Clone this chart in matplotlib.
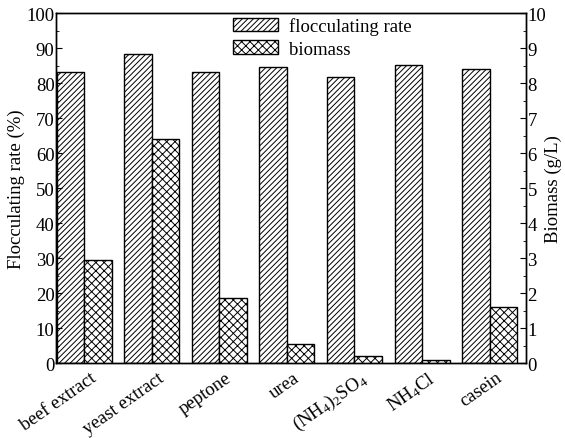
import numpy as np
import matplotlib
matplotlib.use('Agg')
import matplotlib.pyplot as plt

plt.rcParams['font.family'] = ['Liberation Serif', 'DejaVu Serif']
plt.rcParams['mathtext.fontset'] = 'custom'
plt.rcParams['mathtext.rm'] = 'Liberation Serif'
plt.rcParams['mathtext.it'] = 'Liberation Serif:italic'
plt.rcParams['hatch.linewidth'] = 0.7

sources = ['beef extract', 'yeast extract', 'peptone', 'urea',
           '(NH$_4$)$_2$SO$_4$', 'NH$_4$Cl', 'casein']
floc_rate = [83.3, 88.4, 83.3, 84.8, 81.7, 85.4, 84.0]
biomass = [2.96, 6.40, 1.86, 0.54, 0.19, 0.08, 1.60]

fs = 13.5
w = 0.407
x = np.arange(len(sources))

fig = plt.figure(figsize=(5.65, 4.39), dpi=100)
ax = fig.add_axes([0.0991, 0.1708, 0.8319, 0.7962])
ax2 = ax.twinx()

b1 = ax.bar(x - w / 2, floc_rate, width=w, facecolor='white', edgecolor='black',
            linewidth=1.0, hatch='//////', label='flocculating rate')
b2 = ax2.bar(x + w / 2, biomass, width=w, facecolor='white', edgecolor='black',
             linewidth=1.0, hatch='xxxx', label='biomass')

ax.set_xlim(-0.42, 6.54)
ax.set_ylim(0, 100)
ax2.set_ylim(0, 10)

ax.set_yticks(np.arange(0, 101, 10))
ax.set_yticks(np.arange(0, 101, 5), minor=True)
ax2.set_yticks(np.arange(0, 11, 1))
ax2.set_yticks(np.arange(0, 10.1, 0.5), minor=True)

ax.set_xticks(x + 0.08)
ax.set_xticklabels(sources, rotation=35, ha='right', rotation_mode='anchor', fontsize=fs)
ax.tick_params(axis='x', direction='in', length=0, pad=4)
ax.tick_params(axis='y', which='major', direction='in', length=4, labelsize=fs, pad=1)
ax.tick_params(axis='y', which='minor', direction='in', length=2)
ax2.tick_params(axis='y', which='major', direction='in', length=4, labelsize=fs, pad=1)
ax2.tick_params(axis='y', which='minor', direction='in', length=2)

ax.set_ylabel('Flocculating rate (%)', fontsize=fs, labelpad=1)
ax2.set_ylabel('Biomass (g/L)', fontsize=fs, labelpad=-1)

for a in (ax, ax2):
    for s in a.spines.values():
        s.set_linewidth(1.0)

ax.legend([b1, b2], ['flocculating rate', 'biomass'], loc='upper left',
          bbox_to_anchor=(0.377, 0.99), frameon=False, fontsize=fs,
          borderpad=0, borderaxespad=0, handlelength=2.4, handleheight=0.7,
          handletextpad=0.6, labelspacing=0.3)

fig.savefig('out.png', dpi=100)
